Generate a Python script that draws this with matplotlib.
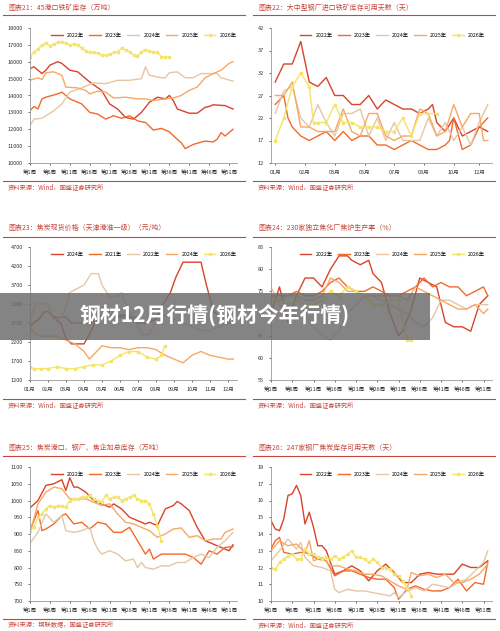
import matplotlib.pyplot as plt
from matplotlib.patches import Rectangle

plt.rcParams['font.family'] = ['Noto Sans CJK SC', 'DejaVu Sans']

C22, C23, C24, C25, C26 = "#d8432a", "#f26a2b", "#e6c6a4", "#f7a865", "#f5e46a"
ROJO = "#c8463c"

# 图表21: 45港口铁矿库存 (万吨), x = 周
p21_x22 = [1, 2, 4, 5, 6, 8, 9, 11, 13, 14, 16, 19, 21, 23, 25, 27, 29, 31, 33, 35, 36, 37, 38, 41, 43, 45, 46, 47, 50, 52]
p21_y22 = [15600, 15700, 15300, 15500, 15800, 16000, 15900, 15500, 15400, 15200, 14800, 14300, 13500, 13200, 12700, 12600, 13000, 13600, 13900, 13800, 14000, 13700, 13200, 12950, 12950, 13300, 13350, 13450, 13400, 13200]
p21_x23 = [1, 2, 3, 4, 5, 8, 9, 11, 14, 16, 18, 20, 22, 24, 26, 28, 30, 32, 34, 36, 38, 39, 40, 42, 45, 47, 48, 49, 50, 52]
p21_y23 = [13100, 13350, 13200, 13800, 13900, 14100, 14200, 13800, 13500, 13000, 12900, 12600, 12800, 12650, 12800, 12500, 12400, 11950, 12050, 11850, 11400, 11200, 10850, 11100, 11300, 11250, 11400, 11800, 11600, 12000]
p21_x24 = [1, 2, 4, 7, 9, 11, 14, 17, 20, 23, 26, 29, 30, 31, 34, 35, 36, 38, 40, 42, 44, 46, 48, 49, 52]
p21_y24 = [12200, 12600, 12650, 13100, 13500, 14200, 14450, 14750, 14700, 14900, 14900, 15000, 15700, 15200, 15050, 15050, 15350, 15400, 15050, 15050, 15300, 15300, 15300, 15050, 14850]
p21_x25 = [1, 3, 4, 5, 7, 9, 10, 13, 15, 16, 18, 20, 22, 25, 28, 30, 32, 35, 37, 39, 41, 43, 45, 47, 49, 51, 52]
p21_y25 = [14900, 15050, 14950, 15350, 15400, 15200, 14500, 14450, 14300, 14100, 14250, 14200, 13850, 13900, 13800, 13800, 13700, 13800, 13850, 14000, 14300, 14500, 15050, 15300, 15500, 15900, 16000]
p21_x26 = [1, 2, 3, 4, 5, 6, 7, 8, 9, 10, 11, 12, 13, 14, 15, 16, 17, 18, 19, 20, 21, 22, 23, 24, 25, 26, 27, 28, 29, 30, 31, 32, 33, 34, 35, 36]
p21_y26 = [16300, 16550, 16750, 17000, 17100, 16950, 17050, 17150, 17200, 17100, 17000, 17050, 17000, 16800, 16650, 16550, 16550, 16500, 16400, 16400, 16450, 16550, 16600, 16800, 16700, 16600, 16400, 16350, 16600, 16700, 16650, 16550, 16550, 16300, 16300, 16300]

# 图表22: 大中型钢厂进口铁矿库存可用天数 (天), x = 期
p22_x22 = [0, 2, 4, 6, 8, 10, 12, 14, 16, 18, 20, 22, 24, 26, 28, 30, 32, 34, 36, 37, 38, 40, 42, 44, 46, 48, 50]
p22_y22 = [30, 34, 34, 39, 30, 29, 31, 27, 27, 25, 25, 27, 24, 26, 25, 24, 24, 23, 24, 25, 21, 19, 22, 18, 19, 20, 19]
p22_x23 = [0, 2, 3, 4, 6, 8, 10, 12, 14, 16, 18, 20, 22, 24, 26, 28, 30, 32, 34, 36, 38, 40, 41, 42, 44, 46, 48, 50]
p22_y23 = [25, 27, 22, 20, 18, 17, 18, 19, 17, 19, 17, 18, 18, 16, 16, 15, 16, 17, 16, 15, 15, 16, 17, 22, 15, 16, 20, 22]
p22_x24 = [0, 2, 4, 6, 8, 10, 12, 14, 16, 18, 20, 22, 24, 26, 28, 30, 32, 34, 36, 38, 40, 42, 44, 46, 48, 50]
p22_y24 = [23, 28, 29, 22, 20, 25, 21, 18, 23, 23, 24, 18, 22, 17, 21, 17, 17, 17, 22, 18, 21, 17, 20, 16, 21, 25]
p22_x25 = [0, 2, 4, 6, 8, 10, 12, 14, 16, 18, 20, 22, 24, 26, 28, 30, 32, 34, 36, 38, 40, 42, 44, 46, 48, 49, 50]
p22_y25 = [27, 27, 30, 20, 20, 19, 19, 19, 24, 19, 18, 23, 23, 18, 17, 18, 18, 24, 23, 18, 19, 25, 20, 23, 23, 17, 17]
p22_x26 = [0, 2, 4, 6, 8, 9, 10, 12, 14, 16, 18, 20, 22, 24, 26, 28, 30, 32, 34, 36, 38]
p22_y26 = [17, 22, 29, 32, 29, 21, 21, 21, 25, 21, 21, 20, 20, 20, 19, 19, 22, 18, 23, 23, 23]

# 图表23: 焦炭现货价格 (天津港准一级) (元/吨), x = 月
p23_xa = [1.0, 1.2, 1.5, 1.8, 2.0, 2.4, 2.7, 3.0, 3.3, 3.6, 4.0, 4.3, 4.6, 5.0, 5.5, 6.0, 6.5, 7.0, 7.5, 8.0, 8.4, 8.8, 9.1, 9.5, 10.0, 10.5, 10.8, 11.2, 12.0, 12.3]
p23_ya = [2600, 2700, 2800, 3000, 3000, 2800, 2700, 2300, 2150, 2150, 2150, 2400, 2700, 2900, 2900, 2900, 2900, 2700, 2700, 2800, 3200, 3500, 3900, 4300, 4300, 4300, 3700, 3000, 2700, 2700]
p23_xb = [1.0, 1.2, 1.5, 1.8, 2.0, 2.4, 2.7, 3.0, 3.3, 3.6, 4.0, 4.4, 4.8, 5.2, 5.6, 6.0, 6.5, 7.0]
p23_yb = [2600, 2700, 2800, 3000, 3000, 2850, 2850, 2850, 2700, 2700, 2700, 2700, 2800, 2900, 2850, 2850, 2850, 2850]
p23_xc = [1.0, 1.3, 1.6, 2.0, 2.3, 2.6, 2.9, 3.2, 3.6, 4.0, 4.4, 4.8, 5.0, 5.4, 5.8, 6.1, 6.4, 6.8, 7.2, 7.6, 8.0, 8.5, 9.0, 9.5, 10.0, 10.5, 11.0, 11.5, 12.0]
p23_yc = [2700, 3200, 3200, 3200, 2800, 2800, 3000, 3500, 3600, 3700, 4000, 4000, 3700, 3400, 3400, 3500, 3100, 2800, 2400, 2400, 2700, 2900, 2800, 2700, 2600, 2500, 2500, 2600, 2700]
p23_xd = [1.0, 1.3, 1.6, 2.0, 2.5, 3.0, 3.5, 4.0, 4.3, 4.6, 5.0, 5.5, 6.0, 6.5, 7.0, 7.5, 8.0, 8.5, 9.0, 9.5, 10.0, 10.5, 11.0, 11.5, 12.0, 12.3]
p23_yd = [2600, 2400, 2350, 2350, 2350, 2250, 2150, 1950, 1750, 1900, 2100, 2050, 2050, 2000, 2050, 2050, 2000, 1850, 1750, 1650, 1850, 1950, 1850, 1800, 1750, 1750]
p23_xe = [1.0, 1.2, 1.6, 2.0, 2.5, 3.0, 3.5, 4.0, 4.5, 5.0, 5.5, 6.0, 6.5, 7.0, 7.5, 8.0, 8.3, 8.5]
p23_ye = [1550, 1500, 1500, 1500, 1550, 1500, 1500, 1550, 1600, 1600, 1700, 1850, 1950, 1950, 1800, 1750, 1850, 2100]

# 图表24: 230家独立焦化厂焦炉生产率 (%), x = 周
p24_x22 = [1, 3, 5, 7, 9, 11, 13, 15, 17, 19, 20, 22, 24, 25, 27, 29, 31, 32, 34, 36, 38, 40, 42, 44, 46, 48, 50, 52]
p24_y22 = [70, 76, 68, 74, 78, 78, 76, 80, 83, 83, 82, 81, 82, 79, 77, 70, 65, 66, 71, 78, 77, 76, 68, 67, 67, 66, 72, 74]
p24_x23 = [1, 3, 5, 7, 9, 11, 13, 15, 17, 19, 21, 23, 25, 27, 29, 31, 33, 35, 37, 39, 41, 43, 45, 47, 49, 51, 52]
p24_y23 = [74, 74, 74, 75, 74, 74, 75, 77, 78, 76, 75, 75, 76, 75, 74, 74, 75, 76, 78, 76, 77, 76, 76, 74, 75, 76, 74]
p24_x24 = [1, 3, 5, 7, 9, 11, 13, 15, 17, 19, 21, 23, 25, 27, 29, 31, 33, 35, 37, 39, 41, 43, 45, 47, 49, 51, 52]
p24_y24 = [76, 72, 70, 69, 70, 67, 65, 64, 66, 70, 72, 74, 74, 73, 72, 71, 70, 68, 67, 69, 73, 73, 72, 71, 72, 72, 72]
p24_x25 = [1, 3, 5, 7, 9, 11, 13, 15, 17, 19, 21, 23, 25, 27, 29, 31, 33, 35, 37, 39, 41, 43, 45, 47, 49, 51, 52]
p24_y25 = [74, 73, 74, 74, 73, 73, 74, 78, 77, 75, 75, 74, 74, 74, 74, 74, 73, 76, 75, 74, 73, 72, 71, 71, 72, 70, 71]
p24_x26 = [1, 3, 5, 7, 9, 11, 13, 15, 17, 19, 21, 23, 25, 27, 29, 31, 33, 34]
p24_y26 = [73, 73, 72, 73, 72, 72, 73, 75, 74, 76, 75, 74, 72, 72, 73, 73, 64, 64]

# 图表25: 焦炭港口、钢厂、焦企加总库存 (万吨), x = 周
p25_x22 = [1, 3, 5, 7, 9, 10, 11, 12, 13, 15, 17, 19, 21, 22, 24, 26, 28, 30, 31, 33, 35, 37, 38, 39, 41, 43, 45, 47, 49, 51, 52]
p25_y22 = [978, 1000, 1045, 1050, 1062, 1030, 1068, 1040, 1040, 1025, 1000, 990, 980, 990, 975, 950, 940, 930, 935, 925, 975, 985, 997, 990, 970, 920, 880, 870, 860, 850, 868]
p25_x23 = [1, 3, 4, 5, 7, 9, 10, 12, 14, 16, 18, 20, 22, 24, 26, 28, 30, 31, 32, 34, 36, 38, 40, 42, 44, 46, 48, 50, 52]
p25_y23 = [910, 970, 910, 915, 930, 955, 960, 930, 935, 915, 935, 930, 905, 905, 920, 880, 840, 855, 825, 840, 840, 840, 840, 830, 810, 850, 840, 860, 862]
p25_x24 = [1, 3, 5, 7, 9, 10, 12, 14, 16, 17, 18, 19, 21, 23, 25, 27, 28, 29, 30, 32, 34, 36, 38, 40, 42, 44, 46, 48, 50, 52]
p25_y24 = [872, 905, 960, 935, 955, 910, 905, 910, 920, 880, 855, 840, 850, 840, 820, 825, 800, 815, 800, 795, 805, 805, 815, 815, 830, 840, 830, 860, 880, 905]
p25_x25 = [1, 3, 5, 7, 9, 11, 13, 15, 17, 19, 21, 23, 25, 27, 29, 31, 33, 35, 37, 39, 41, 43, 45, 47, 49, 50, 52]
p25_y25 = [905, 990, 1025, 1040, 1035, 1005, 1005, 1005, 995, 985, 990, 960, 935, 930, 920, 910, 890, 900, 915, 918, 890, 895, 880, 885, 885, 905, 915]
p25_x26 = [1, 2, 3, 4, 5, 6, 7, 8, 9, 10, 11, 12, 13, 14, 15, 16, 17, 18, 19, 20, 21, 22, 23, 24, 25, 26, 27, 28, 29, 30, 31, 32, 33, 34]
p25_y26 = [910, 920, 950, 960, 975, 985, 980, 985, 985, 980, 1000, 1005, 1005, 1010, 1010, 1015, 1005, 1000, 995, 1015, 1005, 1010, 1010, 1000, 1005, 1010, 1015, 1005, 1000, 1000, 990, 960, 925, 880]

# 图表26: 247家钢厂焦炭库存可用天数 (天), x = 周
p26_x22 = [1, 2, 3, 4, 5, 6, 7, 8, 9, 10, 11, 12, 13, 14, 16, 18, 20, 22, 24, 26, 28, 30, 32, 34, 36, 38, 40, 42, 44, 46, 48, 50, 52]
p26_y22 = [14.8, 14.3, 14.2, 14.9, 16.3, 16.4, 16.9, 16.3, 14.6, 15.3, 14.4, 13.3, 13.3, 13.0, 11.6, 11.8, 12.1, 11.8, 11.2, 11.8, 12.2, 11.7, 11.1, 11.1, 11.6, 11.7, 11.6, 11.6, 11.6, 12.2, 12.0, 12.0, 12.4]
p26_x23 = [1, 2, 3, 4, 6, 8, 9, 10, 12, 14, 16, 18, 20, 22, 24, 26, 28, 30, 31, 33, 35, 37, 39, 41, 43, 45, 47, 49, 51, 52]
p26_y23 = [13.1, 13.6, 13.8, 12.9, 12.8, 12.9, 12.9, 12.8, 12.5, 12.4, 11.5, 11.8, 11.8, 11.6, 11.4, 11.3, 11.3, 10.8, 10.1, 10.7, 10.9, 10.7, 10.6, 10.6, 10.8, 11.3, 10.6, 11.1, 11.0, 12.3]
p26_x24 = [1, 3, 5, 7, 8, 9, 11, 13, 15, 16, 17, 19, 21, 23, 25, 27, 29, 30, 31, 33, 35, 37, 39, 41, 43, 45, 47, 49, 51, 52]
p26_y24 = [12.4, 13.0, 13.7, 13.1, 13.5, 12.6, 12.1, 12.0, 11.8, 10.7, 10.5, 10.7, 10.6, 10.6, 10.5, 10.4, 10.3, 10.5, 10.2, 10.6, 10.8, 10.6, 11.0, 10.9, 10.8, 11.1, 11.3, 11.8, 12.3, 13.0]
p26_x25 = [1, 3, 5, 7, 9, 10, 11, 13, 15, 17, 19, 21, 23, 25, 27, 29, 31, 33, 34, 36, 38, 40, 42, 44, 46, 48, 50, 52]
p26_y25 = [13.0, 13.6, 13.3, 13.4, 12.9, 13.6, 12.4, 12.6, 12.1, 12.1, 11.9, 11.8, 11.6, 11.6, 11.5, 11.2, 10.9, 10.7, 11.7, 11.5, 11.6, 11.4, 11.6, 11.1, 11.1, 11.3, 11.6, 12.2]
p26_x26 = [1, 2, 3, 4, 5, 6, 7, 8, 9, 10, 11, 12, 13, 14, 15, 16, 17, 18, 19, 20, 21, 22, 23, 24, 25, 26, 27, 28, 29, 30, 31, 32, 33, 34]
p26_y26 = [12.0, 11.9, 12.3, 12.5, 12.7, 12.8, 12.5, 12.5, 13.1, 12.8, 12.8, 12.6, 12.5, 12.6, 12.5, 12.7, 12.5, 12.6, 12.8, 13.0, 12.6, 12.6, 12.5, 12.3, 12.5, 12.3, 12.0, 12.0, 11.9, 11.6, 11.5, 11.2, 10.8, 10.3]

semanas = [1, 6, 11, 16, 21, 26, 31, 36, 41, 46, 51]
etiq_sem = ["第%d周" % s for s in semanas]

fig = plt.figure(figsize=(5, 6.31), dpi=100)
W, H = 500, 631


def caja(x0, y0, x1, y1):
    return [x0 / W, 1 - y1 / H, (x1 - x0) / W, (y1 - y0) / H]


def panel(rect, titulo, fuente, title_y, line_y, foot_line, x0, x1):
    fig.text(x0 / W, 1 - title_y / H, titulo, fontsize=5, color=ROJO, style="italic", va="center")
    fig.add_artist(plt.Line2D([x0 / W - 0.01, x1 / W], [1 - line_y / H] * 2, color=ROJO, lw=0.8))
    fig.add_artist(plt.Line2D([x0 / W - 0.01, x1 / W], [1 - foot_line / H] * 2, color=ROJO, lw=0.8))
    fig.text(x0 / W, 1 - (foot_line + 6) / H, fuente, fontsize=4.5, color=ROJO, style="italic", va="center")
    ax = fig.add_axes(rect)
    for s in ["top", "right"]:
        ax.spines[s].set_visible(False)
    for s in ["left", "bottom"]:
        ax.spines[s].set_color("#999999")
        ax.spines[s].set_linewidth(0.6)
    ax.tick_params(labelsize=4, length=1.5, width=0.5, colors="#333333")
    return ax


def series(ax, datos, etiquetas):
    colores = [C22, C23, C24, C25, C26]
    for (x, y), lab, c in zip(datos, etiquetas, colores):
        if c == C26:
            ax.plot(x, y, color=c, lw=1.0, marker="s", ms=1.6, label=lab)
        else:
            ax.plot(x, y, color=c, lw=1.0, label=lab)
    ax.legend(loc="upper center", ncol=5, fontsize=3.8, frameon=False, handlelength=2.2,
              columnspacing=1.0, bbox_to_anchor=(0.55, 1.0))


anios = ["2022年", "2023年", "2024年", "2025年", "2026年"]
LX0, LX1, RX0, RX1 = 30, 237, 271, 492

# fila 1
ax = panel(caja(LX0, 28, LX1, 163), "图表21：45港口铁矿库存（万吨）", "资料来源：Wind，国盛证券研究所", 8, 15, 181, 8, 245)
series(ax, [(p21_x22, p21_y22), (p21_x23, p21_y23), (p21_x24, p21_y24), (p21_x25, p21_y25), (p21_x26, p21_y26)], anios)
ax.set_ylim(10000, 18000); ax.set_yticks(range(10000, 18001, 1000))
ax.set_xlim(1, 53); ax.set_xticks(semanas); ax.set_xticklabels(etiq_sem)

ax = panel(caja(RX0, 28, RX1, 163), "图表22：大中型钢厂进口铁矿库存可用天数（天）", "资料来源：Wind，国盛证券研究所", 8, 15, 181, 258, 495)
series(ax, [(p22_x22, p22_y22), (p22_x23, p22_y23), (p22_x24, p22_y24), (p22_x25, p22_y25), (p22_x26, p22_y26)], anios)
ax.set_ylim(12, 42); ax.set_yticks(range(12, 43, 5))
ax.set_xlim(-1, 51); ax.set_xticks([0, 7, 14, 21, 28, 35, 42, 48])
ax.set_xticklabels(["01月", "02月", "03月", "05月", "07月", "08月", "10月", "12月"])

# fila 2
ax = panel(caja(LX0, 247, LX1, 380), "图表23：焦炭现货价格（天津港准一级）（元/吨）", "资料来源：Wind，国盛证券研究所", 228, 237, 399, 8, 245)
series(ax, [(p23_xa, p23_ya), (p23_xb, p23_yb), (p23_xc, p23_yc), (p23_xd, p23_yd), (p23_xe, p23_ye)],
       ["2024年", "2021年", "2022年", "2024年", "2026年"])
ax.set_ylim(1200, 4700); ax.set_yticks(range(1200, 4701, 500))
ax.set_xlim(1, 12.5); ax.set_xticks(range(1, 13))
ax.set_xticklabels(["%02d月" % m for m in range(1, 13)])

ax = panel(caja(RX0, 247, RX1, 380), "图表24：230家独立焦化厂焦炉生产率（%）", "资料来源：Wind，国盛证券研究所", 228, 237, 399, 258, 495)
series(ax, [(p24_x22, p24_y22), (p24_x23, p24_y23), (p24_x24, p24_y24), (p24_x25, p24_y25), (p24_x26, p24_y26)], anios)
ax.set_ylim(55, 85); ax.set_yticks(range(55, 86, 5))
ax.set_xlim(1, 53); ax.set_xticks(semanas); ax.set_xticklabels(etiq_sem)

# fila 3
ax = panel(caja(LX0, 467, LX1, 601), "图表25：焦炭港口、钢厂、焦企加总库存（万吨）", "资料来源：钢联数据，国盛证券研究所", 448, 456, 619, 8, 245)
series(ax, [(p25_x22, p25_y22), (p25_x23, p25_y23), (p25_x24, p25_y24), (p25_x25, p25_y25), (p25_x26, p25_y26)], anios)
ax.set_ylim(700, 1100); ax.set_yticks(range(700, 1101, 50))
ax.set_xlim(1, 53); ax.set_xticks(semanas); ax.set_xticklabels(etiq_sem)

ax = panel(caja(RX0, 467, RX1, 601), "图表26：247家钢厂焦炭库存可用天数（天）", "资料来源：Wind，国盛证券研究所", 448, 456, 619, 258, 495)
series(ax, [(p26_x22, p26_y22), (p26_x23, p26_y23), (p26_x24, p26_y24), (p26_x25, p26_y25), (p26_x26, p26_y26)], anios)
ax.set_ylim(10, 18); ax.set_yticks(range(10, 19))
ax.set_xlim(1, 53); ax.set_xticks(semanas); ax.set_xticklabels(etiq_sem)

# banner
fig.add_artist(Rectangle((0, 1 - 340 / H), 430 / W, 47 / H, transform=fig.transFigure,
                         facecolor="#6e6e6e", alpha=0.85, edgecolor="none", zorder=10))
fig.text(215 / W, 1 - 316 / H, "钢材12月行情(钢材今年行情)", fontsize=15, fontweight="bold",
         color="white", ha="center", va="center", zorder=11)

fig.savefig("out.png", dpi=100)
